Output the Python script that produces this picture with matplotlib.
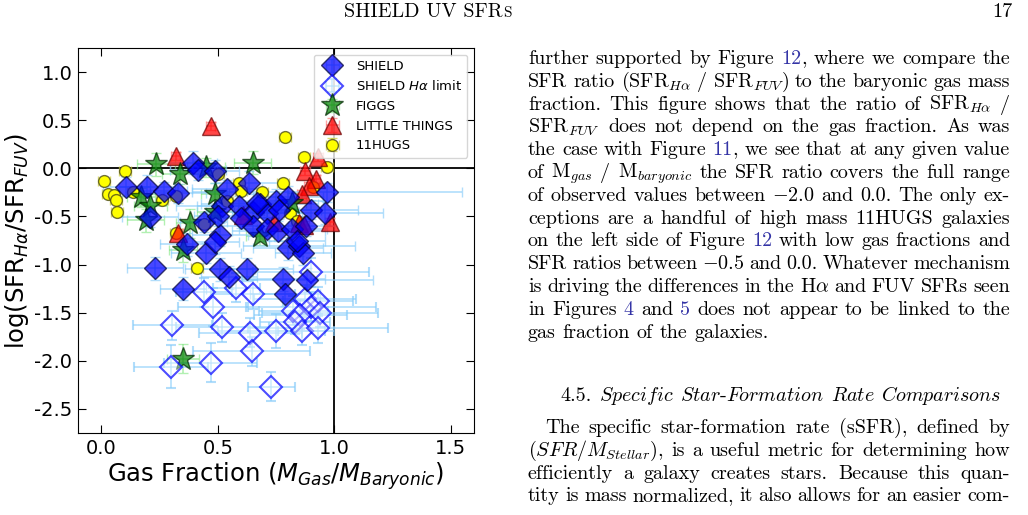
import re
import matplotlib
matplotlib.use("Agg")
import matplotlib.pyplot as plt

plt.rcParams['axes.unicode_minus'] = False

# SHIELD, filled diamonds
shield_x = [0.107, 0.195, 0.27, 0.33, 0.21, 0.395, 0.415, 0.49, 0.54, 0.52, 0.59, 0.635,
            0.44, 0.51, 0.65, 0.68, 0.71, 0.75, 0.765, 0.80, 0.90, 0.96, 0.97, 0.65,
            0.71, 0.76, 0.82, 0.37, 0.45, 0.49, 0.23, 0.35, 0.51, 0.55, 0.625, 0.78,
            0.79, 0.885, 0.80, 0.85, 0.865, 0.84, 0.67, 0.50, 0.60, 0.88]
shield_y = [-0.19, -0.19, -0.24, -0.26, -0.51, 0.06, -0.02, -0.03, -0.22, -0.39, -0.39, -0.15,
            -0.56, -0.69, -0.45, -0.37, -0.46, -0.34, -0.43, -0.30, -0.43, -0.46, -0.25, -0.60,
            -0.63, -0.65, -0.63, -0.79, -0.88, -0.77, -1.04, -1.25, -1.05, -1.13, -1.05, -1.15,
            -1.31, -1.16, -0.83, -0.81, -0.88, -0.76, -0.36, -0.50, -0.52, -0.60]
shield_xerr = [0.10, 0.12, 0.10, 0.12, 0.12, 0.10, 0.12, 0.10, 0.15, 0.20, 0.18, 0.15,
               0.10, 0.12, 0.20, 0.25, 0.15, 0.20, 0.18, 0.15, 0.20, 0.25, 0.58, 0.15,
               0.12, 0.20, 0.15, 0.12, 0.15, 0.10, 0.12, 0.10, 0.15, 0.12, 0.20, 0.18,
               0.15, 0.28, 0.15, 0.24, 0.12, 0.12, 0.12, 0.10, 0.15, 0.12]
shield_yerr = [0.10, 0.12, 0.10, 0.10, 0.10, 0.12, 0.10, 0.12, 0.10, 0.12, 0.10, 0.12,
               0.10, 0.12, 0.10, 0.12, 0.10, 0.12, 0.10, 0.12, 0.10, 0.12, 0.10, 0.10,
               0.12, 0.10, 0.12, 0.12, 0.10, 0.12, 0.12, 0.12, 0.12, 0.12, 0.12, 0.12,
               0.12, 0.12, 0.12, 0.10, 0.12, 0.10, 0.10, 0.10, 0.10, 0.10]

# SHIELD, H-alpha upper limits (open diamonds)
limit_x = [0.90, 0.44, 0.58, 0.65, 0.48, 0.875, 0.93, 0.90, 0.825, 0.855, 0.94,
           0.305, 0.52, 0.64, 0.75, 0.83, 0.86, 0.93, 0.645, 0.30, 0.47, 0.73]
limit_y = [-1.08, -1.29, -1.24, -1.31, -1.44, -1.36, -1.38, -1.44, -1.48, -1.52, -1.50,
           -1.63, -1.65, -1.71, -1.69, -1.60, -1.69, -1.66, -1.90, -2.06, -2.02, -2.27]
limit_xerr = [0.25, 0.12, 0.10, 0.18, 0.15, 0.22, 0.15, 0.28, 0.15, 0.20, 0.25,
              0.17, 0.20, 0.22, 0.25, 0.15, 0.10, 0.30, 0.25, 0.16, 0.20, 0.10]
limit_yerr = [0.15, 0.15, 0.15, 0.15, 0.20, 0.15, 0.15, 0.15, 0.15, 0.15, 0.15,
              0.15, 0.15, 0.15, 0.18, 0.12, 0.15, 0.15, 0.15, 0.22, 0.20, 0.15]

# FIGGS
figgs_x = [0.235, 0.45, 0.65, 0.34, 0.17, 0.21, 0.19, 0.38, 0.49, 0.49, 0.68, 0.35, 0.35, 0.82]
figgs_y = [0.04, 0.01, 0.06, -0.06, -0.30, -0.39, -0.54, -0.57, -0.27, -0.45, -0.70, -0.85, -1.98, -0.36]
figgs_xerr = [0.08, 0.08, 0.08, 0.08, 0.06, 0.07, 0.08, 0.06, 0.06, 0.08, 0.06, 0.06, 0.07, 0.06]
figgs_yerr = [0.12, 0.10, 0.12, 0.10, 0.10, 0.12, 0.12, 0.15, 0.12, 0.12, 0.10, 0.12, 0.15, 0.10]

# LITTLE THINGS
lt_x = [0.47, 0.32, 0.93, 0.875, 0.92, 0.89, 0.86, 0.98, 0.85, 0.87, 0.74, 0.61, 0.33]
lt_y = [0.44, 0.13, 0.12, -0.03, -0.11, -0.18, -0.27, -0.56, -0.57, -0.59, -0.56, -0.49, -0.67]
lt_xerr = [0.02] * 13
lt_yerr = [0.04] * 13

# 11HUGS
hugs_x = [0.013, 0.10, 0.03, 0.056, 0.064, 0.068, 0.136, 0.26, 0.32, 0.79, 0.87, 0.97,
          0.78, 0.59, 0.60, 0.69, 0.54, 0.50, 0.91, 0.41, 0.32, 0.81, 0.84, 0.44]
hugs_y = [-0.135, -0.03, -0.27, -0.28, -0.33, -0.45, -0.25, -0.33, -0.29, 0.33, 0.12, 0.01,
          -0.15, -0.15, -0.24, -0.25, -0.34, -0.06, -0.19, -1.04, -0.67, -0.46, -0.55, -0.58]
hugs_xerr = [0.026] * 24
hugs_yerr = [0.02] * 24

W, H = 1028, 515
fig = plt.figure(figsize=(W / 100, H / 100), dpi=100)
ax = fig.add_axes([78 / W, 82 / H, 396 / W, 385 / H])

ax.axhline(0, color='k', lw=1.3, zorder=1)
ax.axvline(1.0, color='k', lw=1.3, zorder=1)

cap = 3.5
h_hugs = ax.errorbar(hugs_x, hugs_y, xerr=hugs_xerr, yerr=hugs_yerr, fmt='o', ms=8.5,
                     mfc='yellow', mec=(0.3, 0.3, 0.1, 0.8), ecolor=(0.8, 0.8, 0.2, 0.7),
                     capsize=cap, elinewidth=1.2, label='11HUGS')
h_lt = ax.errorbar(lt_x, lt_y, xerr=lt_xerr, yerr=lt_yerr, fmt='^', ms=12.5,
                   mfc=(1, 0, 0, 0.72), mec=(0.4, 0, 0, 0.7), ecolor=(1, 0.4, 0.4, 0.6),
                   capsize=cap, elinewidth=1.2, label='LITTLE THINGS')
h_figgs = ax.errorbar(figgs_x, figgs_y, xerr=figgs_xerr, yerr=figgs_yerr, fmt='*', ms=17,
                      mfc=(0, 0.5, 0, 0.7), mec=(0, 0.15, 0, 0.7), ecolor=(0.5, 0.9, 0.5, 0.6),
                      capsize=cap, elinewidth=1.2, label='FIGGS')
h_lim = ax.errorbar(limit_x, limit_y, xerr=limit_xerr, yerr=limit_yerr, fmt='D', ms=11,
                    mfc=(1, 1, 1, 0.4), mec=(0, 0, 1, 0.7), mew=1.5, ecolor=(0.53, 0.8, 0.98, 0.65),
                    capsize=cap, elinewidth=1.2, label=r'SHIELD $H\alpha$ limit')
h_shield = ax.errorbar(shield_x, shield_y, xerr=shield_xerr, yerr=shield_yerr, fmt='D', ms=11,
                       mfc=(0, 0, 1, 0.72), mec=(0, 0, 0.2, 0.7), mew=1.0, ecolor=(0.53, 0.8, 0.98, 0.65),
                       capsize=cap, elinewidth=1.2, label='SHIELD')

ax.set_xlim(-0.1, 1.6)
ax.set_ylim(-2.75, 1.25)
ax.set_xticks([0.0, 0.5, 1.0, 1.5])
ax.set_yticks([1.0, 0.5, 0.0, -0.5, -1.0, -1.5, -2.0, -2.5])
ax.tick_params(direction='in', top=True, right=True, length=6, labelsize=14, pad=4)
ax.set_xlabel(r'Gas Fraction ($M_{Gas}/M_{Baryonic}$)', fontsize=17.5, labelpad=2)
ax.set_ylabel(r'log(SFR$_{H\alpha}$/SFR$_{FUV}$)', fontsize=17.5, labelpad=2)
ax.legend(handles=[h_shield, h_lim, h_figgs, h_lt, h_hugs], loc='upper right', fontsize=9.5)

# page text around the figure
renderer = fig.canvas.get_renderer()
LINK = '#3434a6'
FS = 14.5
X0, X1 = 528, 1010


def put(x, y, s, size=FS, color='black'):
    t = fig.text(x / W, 1 - y / H, s, va='baseline', ha='left', family='cmr10',
                 math_fontfamily='cm', fontsize=size, color=color)
    return t, t.get_window_extent(renderer).width


def text_line(y, line, justify=True, indent=0, center=None):
    items = []
    for w in line.split():
        parts = re.split(r'\[([^\]]*)\]', w)
        objs = []
        for i, p in enumerate(parts):
            if p:
                objs.append(put(0, y, p, color=LINK if i % 2 else 'black'))
        items.append(objs)
    widths = [sum(o[1] for o in objs) for objs in items]
    space = FS * 100 / 72 * 0.34
    start = X0 + indent
    gap = space
    if justify and len(items) > 1:
        gap = (X1 - start - sum(widths)) / (len(items) - 1)
    if center is not None:
        start = center - (sum(widths) + space * (len(items) - 1)) / 2
    x = start
    for objs, w in zip(items, widths):
        xx = x
        for t, tw in objs:
            t.set_x(xx / W)
            xx += tw
        x += w + gap


body = [
    "further supported by Figure [12], where we compare the",
    r"SFR ratio (SFR$_{H\alpha}$ / SFR$_{FUV}$) to the baryonic gas mass",
    r"fraction. This figure shows that the ratio of SFR$_{H\alpha}$ /",
    r"SFR$_{FUV}$ does not depend on the gas fraction. As was",
    "the case with Figure [11], we see that at any given value",
    r"of M$_{gas}$ / M$_{baryonic}$ the SFR ratio covers the full range",
    r"of observed values between $-$2.0 and 0.0. The only ex-",
    "ceptions are a handful of high mass 11HUGS galaxies",
    "on the left side of Figure [12] with low gas fractions and",
    r"SFR ratios between $-$0.5 and 0.0. Whatever mechanism",
    r"is driving the differences in the H$\alpha$ and FUV SFRs seen",
    "in Figures [4] and [5] does not appear to be linked to the",
    "gas fraction of the galaxies.",
]
for i, line in enumerate(body):
    text_line(64 + i * 22.8, line, justify=i < len(body) - 1)

text_line(401, r"4.5. $\mathit{Specific}$ $\mathit{Star}$-$\mathit{Formation}$ "
               r"$\mathit{Rate}$ $\mathit{Comparisons}$", justify=False, center=781)

body2 = [
    "The specific star-formation rate (sSFR), defined by",
    r"($SFR/M_{Stellar}$), is a useful metric for determining how",
    "efficiently a galaxy creates stars. Because this quan-",
    "tity is mass normalized, it also allows for an easier com-",
]
for i, line in enumerate(body2):
    text_line(433 + i * 22.8, line, indent=17 if i == 0 else 0)

# running head
t1, w1 = put(0, 17, "SHIELD UV SFR")
t2, w2 = put(0, 17, "S", size=11)
hx = 428 - (w1 + w2) / 2
t1.set_x(hx / W)
t2.set_x((hx + w1) / W)
t3, w3 = put(0, 17, "17")
t3.set_x((X1 + 3 - w3) / W)

fig.savefig('out.png', dpi=100)
